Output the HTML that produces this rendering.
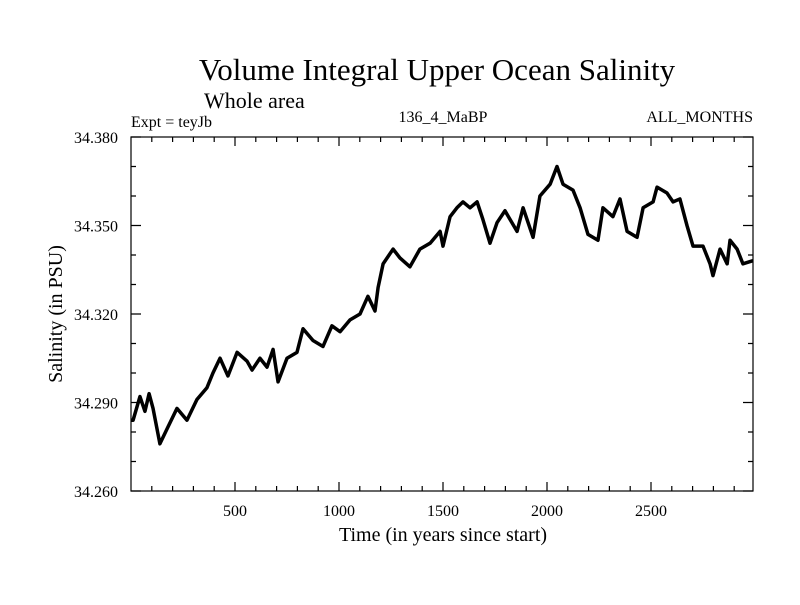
<!DOCTYPE html>
<html><head><meta charset="utf-8"><style>
body{margin:0;background:#fff}
svg text{font-family:"Liberation Serif",serif;fill:#000}
</style></head><body>
<svg id="chart" width="800" height="600" xmlns="http://www.w3.org/2000/svg">
<text x="437" y="80" font-size="31" text-anchor="middle">Volume Integral Upper Ocean Salinity</text>
<text x="204" y="108" font-size="22">Whole area</text>
<text x="131" y="127" font-size="16">Expt = teyJb</text>
<text x="443" y="122" font-size="16" text-anchor="middle">136_4_MaBP</text>
<text x="753" y="122" font-size="16" text-anchor="end">ALL_MONTHS</text>
<text transform="translate(62,314) rotate(-90)" font-size="20" text-anchor="middle">Salinity (in PSU)</text>
<text x="443" y="541" font-size="20" text-anchor="middle">Time (in years since start)</text>
<g id="axes"></g>
<path id="line" fill="none" stroke="#000" stroke-width="3.5" stroke-linejoin="round"/>
</svg>
<script>
const years=[10,43,67,87,106,139,173,221,269,317,365,394,428,466,510,558,582,620,654,683,707,750,798,827,875,923,966,1005,1053,1101,1139,1173,1188,1212,1260,1293,1341,1389,1438,1486,1500,1534,1567,1596,1630,1664,1692,1726,1760,1798,1856,1885,1933,1966,2015,2048,2077,2125,2159,2197,2245,2269,2317,2351,2385,2433,2462,2510,2529,2577,2606,2639,2673,2702,2750,2784,2798,2832,2866,2880,2914,2942,2986];
const salinity=[34.284,34.292,34.287,34.293,34.288,34.276,34.281,34.288,34.284,34.291,34.295,34.300,34.305,34.299,34.307,34.304,34.301,34.305,34.302,34.308,34.297,34.305,34.307,34.315,34.311,34.309,34.316,34.314,34.318,34.320,34.326,34.321,34.329,34.337,34.342,34.339,34.336,34.342,34.344,34.348,34.343,34.353,34.356,34.358,34.356,34.358,34.352,34.344,34.351,34.355,34.348,34.356,34.346,34.360,34.364,34.370,34.364,34.362,34.356,34.347,34.345,34.356,34.353,34.359,34.348,34.346,34.356,34.358,34.363,34.361,34.358,34.359,34.350,34.343,34.343,34.337,34.333,34.342,34.337,34.345,34.342,34.337,34.338];
const yTicks=[34.260,34.290,34.320,34.350,34.380];
const yTickLabels=["34.260","34.290","34.320","34.350","34.380"];
const xTicks=[500,1000,1500,2000,2500];
const xTickLabels=["500","1000","1500","2000","2500"];
const L=131,R=753,T=137,B=491,X0=0,X1=(753-131)/104*500,Y0=34.26,Y1=34.38;
const sx=v=>L+(v-X0)/(X1-X0)*(R-L);
const sy=v=>B-(v-Y0)/(Y1-Y0)*(B-T);
const NS="http://www.w3.org/2000/svg";
const g=document.getElementById('axes');
function mk(t,a){const e=document.createElementNS(NS,t);for(const k in a)e.setAttribute(k,a[k]);g.appendChild(e);return e;}
const frame=mk('rect',{x:L,y:T,width:R-L,height:B-T,fill:'none',stroke:'#000','stroke-width':1.2});


let d='';
for(let v=100;v<X1;v+=100){const x=sx(v),len=(v%500===0)?9:5;d+=`M${x},${B}v${-len}M${x},${T}v${len}`;}
for(let i=0;i<=12;i++){const v=Y0+i*0.01,y=sy(v),len=(i%3===0)?10:5;d+=`M${L},${y}h${len}M${R},${y}h${-len}`;}
const ticks=mk('path',{d:d,stroke:'#000','stroke-width':1.2,fill:'none'});


yTicks.forEach((v,i)=>{const t=mk('text',{x:118,y:sy(v)+6,'font-size':16,'text-anchor':'end'});t.textContent=yTickLabels[i];

});
xTicks.forEach((v,i)=>{const t=mk('text',{x:sx(v),y:516,'font-size':16,'text-anchor':'middle'});t.textContent=xTickLabels[i];

});
let p='M'+L+','+sy(salinity[0]);
years.forEach((yr,i)=>{p+=`L${sx(yr)},${sy(salinity[i])}`;});
p+=`L${R},${sy(salinity[salinity.length-1])}`;
document.getElementById('line').setAttribute('d',p);
</script>
</body></html>
